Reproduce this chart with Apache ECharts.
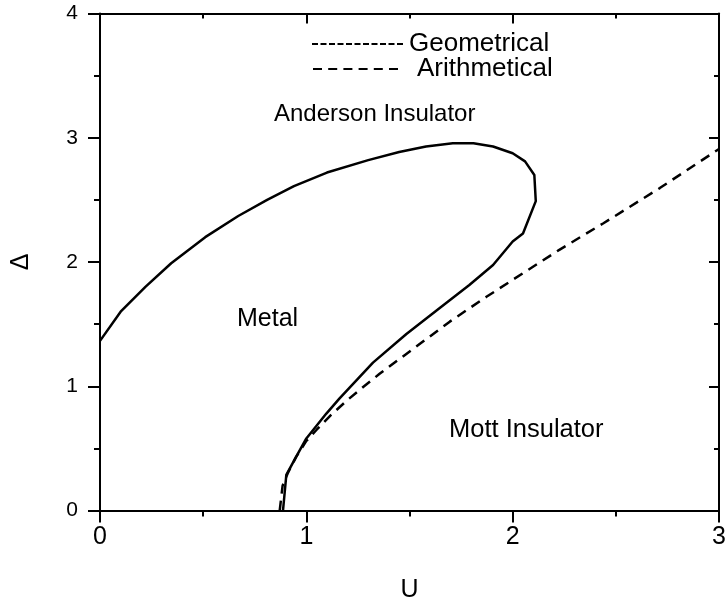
<!DOCTYPE html>
<html>
<head>
<meta charset="utf-8">
<script src="https://cdn.jsdelivr.net/npm/echarts@6/dist/echarts.min.js"></script>
<style>
html,body{margin:0;padding:0;background:#fff;}
#chart{width:725px;height:605px;}
</style>
</head>
<body>
<div id="chart"></div>
<script>
// ---- data ----
const geometricalU = [0, 0.1, 0.22, 0.345, 0.51, 0.67, 0.81, 0.94, 1.1, 1.3, 1.45, 1.58, 1.71, 1.81, 1.905, 2.0, 2.06, 2.105, 2.112, 2.05, 2.0, 1.905, 1.79, 1.645, 1.485, 1.323, 1.16, 1.097, 1.0, 0.951, 0.903, 0.887];
const geometricalDelta = [1.365, 1.60, 1.80, 1.99, 2.20, 2.37, 2.50, 2.61, 2.72, 2.82, 2.885, 2.93, 2.955, 2.955, 2.93, 2.875, 2.81, 2.70, 2.49, 2.23, 2.165, 1.976, 1.815, 1.627, 1.42, 1.19, 0.90, 0.78, 0.58, 0.433, 0.286, 0];
const arithmeticalU = [0.871, 0.885, 0.91, 0.95, 1.0, 1.05, 1.12, 1.2, 1.28, 1.355, 1.517, 1.695, 1.873, 2.05, 2.228, 2.438, 2.713, 3.0];
const arithmeticalDelta = [0, 0.2, 0.3, 0.43, 0.56, 0.65, 0.77, 0.89, 1.0, 1.10, 1.30, 1.52, 1.72, 1.91, 2.10, 2.31, 2.595, 2.91];
const seriesNames = ['Geometrical', 'Arithmetical'];
const regionLabels = ['Anderson Insulator', 'Metal', 'Mott Insulator'];
const xName = 'U';
const yName = 'Δ';

const FONT = '"Liberation Sans", Arial, sans-serif';
const zip = (a, b) => a.map((v, i) => [v, b[i]]);

const chart = echarts.init(document.getElementById('chart'), null, {renderer: 'canvas'});

const axisLineStyle = {color: '#000', width: 2};
const baseAxis = (extra) => Object.assign({
  type: 'value',
  splitLine: {show: false},
  axisLine: {show: true, onZero: false, lineStyle: axisLineStyle},
  axisTick: {show: true, length: 12, lineStyle: axisLineStyle},
  minorTick: {show: true, splitNumber: 2, length: 6, lineStyle: axisLineStyle},
  minorSplitLine: {show: false}
}, extra);

const hiddenDot = {opacity: 0, color: 'rgba(0,0,0,0)', borderWidth: 0};

const option = {
  backgroundColor: '#fff',
  animation: false,
  grid: {left: 100, right: 6, top: 13.5, bottom: 94.5, containLabel: false, outerBoundsMode: 'none'},
  legend: [
    {
      left: 311, top: 31, padding: 0,
      itemWidth: 92, itemHeight: 14,
      textStyle: {fontFamily: FONT, fontSize: 26, color: '#000'},
      data: [{name: seriesNames[0], itemStyle: hiddenDot}],
      itemStyle: hiddenDot,
      lineStyle: {width: 2, type: [6, 2.5], color: '#000'}
    },
    {
      left: 312, top: 56, padding: 0,
      itemWidth: 85, itemHeight: 14,
      textStyle: {fontFamily: FONT, fontSize: 26, color: '#000', padding: [0, 0, 0, 14]},
      data: [{name: seriesNames[1], itemStyle: hiddenDot}],
      itemStyle: hiddenDot,
      lineStyle: {width: 2, type: [9, 6.2], color: '#000'}
    }
  ],
  xAxis: [
    baseAxis({
      position: 'bottom', min: 0, max: 3, interval: 1,
      axisLabel: {fontFamily: FONT, fontSize: 25, color: '#000', margin: 14},
      name: xName, nameLocation: 'middle', nameGap: 67,
      nameTextStyle: {fontFamily: FONT, fontSize: 25, color: '#000'}
    }),
    baseAxis({
      position: 'top', min: 0, max: 3, interval: 1,
      axisTick: {show: true, inside: true, length: 10, lineStyle: axisLineStyle},
      minorTick: {show: true, splitNumber: 2, length: 5, lineStyle: axisLineStyle},
      axisLabel: {show: false}
    })
  ],
  yAxis: [
    baseAxis({
      position: 'left', min: 0, max: 4, interval: 1,
      axisLabel: {fontFamily: FONT, fontSize: 21, color: '#000', margin: 22},
      name: yName, nameLocation: 'middle', nameGap: 66,
      nameTextStyle: {fontFamily: FONT, fontSize: 25, color: '#000'}
    }),
    baseAxis({
      position: 'right', min: 0, max: 4, interval: 1,
      axisTick: {show: true, inside: true, length: 10, lineStyle: axisLineStyle},
      minorTick: {show: true, splitNumber: 2, length: 5, lineStyle: axisLineStyle},
      axisLabel: {show: false}
    })
  ],
  series: [
    {
      name: seriesNames[0], type: 'line', xAxisIndex: 0, yAxisIndex: 0,
      data: zip(geometricalU, geometricalDelta),
      symbol: 'none', smooth: false,
      lineStyle: {color: '#000', width: 2.5, type: 'solid', join: 'round'},
      itemStyle: {color: '#000'}
    },
    {
      name: seriesNames[1], type: 'line', xAxisIndex: 0, yAxisIndex: 0,
      data: zip(arithmeticalU, arithmeticalDelta),
      symbol: 'none', smooth: false,
      lineStyle: {color: '#000', width: 2.5, type: [10, 7]},
      itemStyle: {color: '#000'}
    }
  ],
  graphic: [
    {type: 'text', left: 274, top: 102, style: {text: regionLabels[0], font: '24px ' + FONT, fill: '#000'}},
    {type: 'text', left: 237, top: 307, style: {text: regionLabels[1], font: '25px ' + FONT, fill: '#000'}},
    {type: 'text', left: 449, top: 417, style: {text: regionLabels[2], font: '25.5px ' + FONT, fill: '#000'}}
  ]
};
chart.setOption(option);
</script>
</body>
</html>
